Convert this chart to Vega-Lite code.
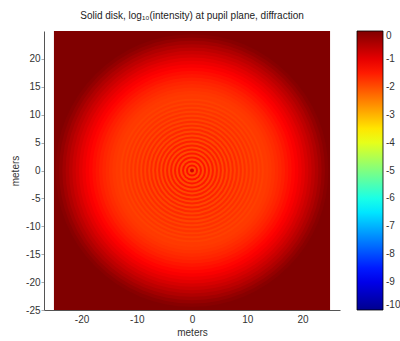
{
  "$schema": "https://vega.github.io/schema/vega-lite/v6.json",
  "width": 296,
  "height": 279,
  "autosize": {"type": "none"},
  "padding": {"left": 44, "top": 31, "right": 60, "bottom": 31},
  "background": "white",
  "config": {
    "font": "Liberation Sans",
    "view": {"stroke": null}
  },
  "title": {
    "text": "Solid disk, log₁₀(intensity) at pupil plane, diffraction",
    "fontSize": 10,
    "fontWeight": "normal",
    "color": "#222",
    "offset": 10,
    "anchor": "middle"
  },
  "datasets": {
    "bg": [{"x0": -25, "x1": 25, "y0": -25, "y1": 25, "v": 0}],
    "rings": [
      {"r": 24.6, "v": -0.08},
      {"r": 24.0, "v": -0.2},
      {"r": 23.4, "v": -0.33},
      {"r": 22.8, "v": -0.47},
      {"r": 22.2, "v": -0.6},
      {"r": 21.6, "v": -0.73},
      {"r": 21.0, "v": -0.85},
      {"r": 20.4, "v": -0.97},
      {"r": 19.8, "v": -1.08},
      {"r": 19.2, "v": -1.19},
      {"r": 18.6, "v": -1.29},
      {"r": 18.0, "v": -1.38},
      {"r": 17.4, "v": -1.46},
      {"r": 16.8, "v": -1.54},
      {"r": 16.2, "v": -1.61},
      {"r": 15.6, "v": -1.67},
      {"r": 15.0, "v": -1.73},
      {"r": 14.4, "v": -1.78},
      {"r": 13.8, "v": -1.82},
      {"r": 13.32, "v": -1.81},
      {"r": 12.96, "v": -1.88},
      {"r": 12.6, "v": -1.79},
      {"r": 12.24, "v": -1.89},
      {"r": 11.88, "v": -1.77},
      {"r": 11.52, "v": -1.9},
      {"r": 11.16, "v": -1.75},
      {"r": 10.8, "v": -1.9},
      {"r": 10.44, "v": -1.73},
      {"r": 10.08, "v": -1.91},
      {"r": 9.72, "v": -1.71},
      {"r": 9.36, "v": -1.92},
      {"r": 9.0, "v": -1.68},
      {"r": 8.64, "v": -1.92},
      {"r": 8.28, "v": -1.66},
      {"r": 7.92, "v": -1.93},
      {"r": 7.56, "v": -1.64},
      {"r": 7.2, "v": -1.94},
      {"r": 6.84, "v": -1.61},
      {"r": 6.48, "v": -1.95},
      {"r": 6.12, "v": -1.59},
      {"r": 5.76, "v": -1.96},
      {"r": 5.4, "v": -1.56},
      {"r": 5.04, "v": -1.96},
      {"r": 4.68, "v": -1.54},
      {"r": 4.32, "v": -1.97},
      {"r": 3.96, "v": -1.51},
      {"r": 3.6, "v": -1.98},
      {"r": 3.24, "v": -1.48},
      {"r": 2.88, "v": -1.99},
      {"r": 2.52, "v": -1.45},
      {"r": 2.16, "v": -2.0},
      {"r": 1.8, "v": -1.42},
      {"r": 1.44, "v": -2.01},
      {"r": 1.08, "v": -1.38},
      {"r": 0.72, "v": -2.02},
      {"r": 0.36, "v": -0.8}
    ]
  },
  "layer": [
    {
      "data": {"name": "bg"},
      "mark": {"type": "rect"},
      "encoding": {
        "x": {
          "field": "x0",
          "type": "quantitative",
          "scale": {"domain": [-26.8, 26.8], "nice": false, "zero": false},
          "axis": {
            "values": [-20, -10, 0, 10, 20],
            "title": "meters",
            "labelExpr": "'' + datum.value",
            "grid": false,
            "ticks": false,
            "domainColor": "#555",
            "labelFontSize": 10,
            "labelColor": "#333",
            "labelPadding": 4,
            "titleFontSize": 10,
            "titleFontWeight": "normal",
            "titleColor": "#333",
            "titlePadding": 3
          }
        },
        "x2": {"field": "x1"},
        "y": {
          "field": "y0",
          "type": "quantitative",
          "scale": {"domain": [-25, 25], "nice": false, "zero": false},
          "axis": {
            "values": [-25, -20, -15, -10, -5, 0, 5, 10, 15, 20],
            "title": "meters",
            "labelExpr": "'' + datum.value",
            "grid": false,
            "tickSize": 3,
            "tickColor": "#aaa",
            "domainColor": "#555",
            "labelFontSize": 10,
            "labelColor": "#333",
            "labelPadding": 1,
            "titleFontSize": 10,
            "titleFontWeight": "normal",
            "titleColor": "#333",
            "titlePadding": 5
          }
        },
        "y2": {"field": "y1"},
        "color": {
          "field": "v",
          "type": "quantitative",
          "scale": {
            "domain": [-10, -8.75, -6.25, -3.75, -1.25, 0],
            "range": ["#00008F", "#0000FF", "#00FFFF", "#FFFF00", "#FF0000", "#800000"],
            "interpolate": "rgb"
          },
          "legend": {
            "title": null,
            "orient": "right",
            "direction": "vertical",
            "offset": 17,
            "padding": 0,
            "values": [0, -1, -2, -3, -4, -5, -6, -7, -8, -9, -10],
            "labelExpr": "'' + datum.value",
            "gradientLength": 279,
            "gradientThickness": 26,
            "gradientStrokeColor": "#000",
            "gradientStrokeWidth": 0.8,
            "labelFontSize": 10,
            "labelColor": "#333",
            "labelOffset": 3
          }
        }
      }
    },
    {
      "data": {"name": "rings"},
      "mark": {"type": "arc", "theta": 0, "theta2": 6.2832},
      "encoding": {
        "radius": {
          "field": "r",
          "type": "quantitative",
          "stack": null,
          "scale": {"type": "linear", "domain": [0, 25], "range": [0, 138.5], "zero": true}
        },
        "color": {"field": "v", "type": "quantitative"}
      }
    }
  ]
}
